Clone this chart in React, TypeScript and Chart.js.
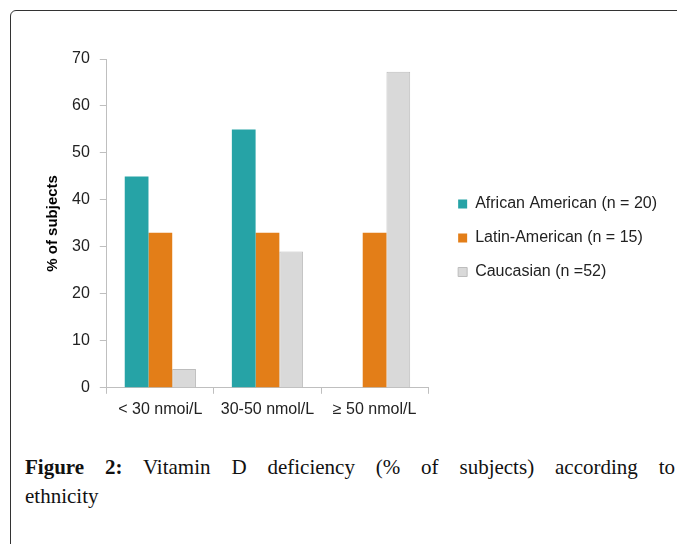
import React, { useEffect, useRef } from "react";
import { Chart, registerables } from "chart.js";

Chart.register(...registerables);

const categories = ["< 30 nmoi/L", "30-50 nmol/L", "\u2265 50 nmol/L"];
const seriesNames = ["African American (n = 20)", "Latin-American (n = 15)", "Caucasian (n =52)"];
const africanAmerican = [45, 55, 0];
const latinAmerican = [33, 33, 33];
const caucasian = [4, 29, 67.3];
const yTicks = [0, 10, 20, 30, 40, 50, 60, 70];
const yTitle = "% of subjects";

const FONT = "'Liberation Sans', Arial, sans-serif";

const legendShift = {
  id: "legendShift",
  afterLayout(chart: any) {
    const lg = chart.legend;
    if (!lg) return;
    const dx = chart.chartArea.right + 12 - lg.left;
    lg.left += dx;
    lg.right += dx;
    lg.top -= 4;
    lg.bottom -= 4;
  },
};

export default function App() {
  const ref = useRef<HTMLCanvasElement | null>(null);

  useEffect(() => {
    if (!ref.current) return;
    const chart = new Chart(ref.current, {
      type: "bar",
      data: {
        labels: categories,
        datasets: [
          {
            label: seriesNames[0],
            data: africanAmerican,
            backgroundColor: "#26a3a6",
            borderColor: "#26a3a6",
            borderWidth: 0,
          },
          {
            label: seriesNames[1],
            data: latinAmerican,
            backgroundColor: "#e37e18",
            borderColor: "#e37e18",
            borderWidth: 0,
          },
          {
            label: seriesNames[2],
            data: caucasian,
            backgroundColor: "#d9d9d9",
            borderColor: "#bdbdbd",
            borderWidth: 1,
          },
        ],
      },
      options: {
        animation: false,
        responsive: false,
        maintainAspectRatio: false,
        layout: { padding: { left: 38, top: 29, right: 22, bottom: 15 } },
        datasets: { bar: { categoryPercentage: 0.665, barPercentage: 1 } },
        scales: {
          x: {
            grid: { display: true, drawOnChartArea: false, drawTicks: true, tickLength: 6, color: "#bfbfbf", offset: true },
            border: { display: true, color: "#bfbfbf", width: 1 },
            ticks: { color: "#222", font: { family: FONT, size: 16 }, padding: 6, maxRotation: 0 },
          },
          y: {
            min: 0,
            max: 70,
            afterBuildTicks: (s: any) => {
              s.ticks = yTicks.map((v) => ({ value: v }));
            },
            grid: { display: true, drawOnChartArea: false, drawTicks: true, tickLength: 7, color: "#bfbfbf" },
            border: { display: true, color: "#bfbfbf", width: 1 },
            ticks: { color: "#222", font: { family: FONT, size: 16 }, padding: 10 },
            title: { display: true, text: yTitle, color: "#000", font: { family: FONT, size: 15, weight: "bold" }, padding: { top: 6, bottom: 0 } },
          },
        },
        plugins: {
          legend: {
            position: "right",
            align: "center",
            maxWidth: 240,
            labels: {
              boxWidth: 9,
              boxHeight: 9,
              padding: 18,
              color: "#222",
              font: { family: FONT, size: 16 },
            },
          },
          tooltip: { enabled: false },
        },
      },
      plugins: [legendShift],
    });
    return () => chart.destroy();
  }, []);

  return (
    <div style={{ position: "absolute", left: 0, top: 0, width: 677, height: 544, overflow: "hidden", background: "#fff" }}>
      <div
        style={{
          position: "absolute",
          left: 10,
          top: 10,
          width: 720,
          height: 600,
          border: "1.5px solid #333",
          borderTopLeftRadius: 6,
          boxSizing: "border-box",
        }}
      />
      <canvas ref={ref} width={677} height={410} style={{ position: "absolute", left: 0, top: 30, width: 677, height: 410 }} />
      <div
        style={{
          position: "absolute",
          left: 25,
          top: 453,
          width: 650,
          fontFamily: "'Liberation Serif', 'Times New Roman', serif",
          fontSize: 21,
          lineHeight: "29px",
          color: "#111",
        }}
      >
        <div style={{ textAlign: "justify", textAlignLast: "justify", whiteSpace: "nowrap" as any }}>
          <b>Figure 2:</b> Vitamin D deficiency (% of subjects) according to
        </div>
        <div>ethnicity</div>
      </div>
    </div>
  );
}
